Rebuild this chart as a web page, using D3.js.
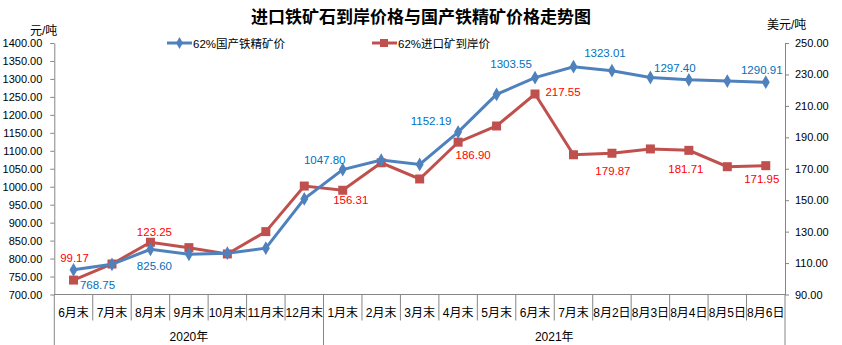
<!DOCTYPE html>
<html><head><meta charset="utf-8">
<script src="https://cdn.jsdelivr.net/npm/d3@7/dist/d3.min.js"></script>
<style>body{margin:0;background:#fff}svg{display:block}</style>
</head><body>
<script>
const categories = ["6月末","7月末","8月末","9月末","10月末","11月末","12月末","1月末","2月末","3月末","4月末","5月末","6月末","7月末","8月2日","8月3日","8月4日","8月5日","8月6日"];
const years = [{name:"2020年", from:0, to:6},{name:"2021年", from:7, to:18}];
const domestic = [768.75,784,825.60,812,815,829,966,1047.80,1074,1062,1152.19,1257,1303.55,1334,1323.01,1304,1297.40,1294,1290.91];
const imported = [99.17,109.4,123.25,119.8,115.8,130,159,156.31,173.8,163.5,186.90,197.2,217.55,178.9,179.87,182.6,181.71,171.3,171.95];
const domesticLabeled = [0,2,7,10,12,14,16,18];
const importedLabeled = [0,2,7,10,12,14,16,18];
const leftTicks = d3.range(700, 1401, 50);
const rightTicks = d3.range(90, 251, 20);

// label placement (offsets from the point, px)
const domOff = {0:[24,19],2:[4,21],7:[-18,-6],10:[-27,-7],12:[-24,-10],14:[-7,-14],16:[-14,-8],18:[-4,-8]};
const impOff = {0:[1,-18],2:[4,-6],7:[8,14],10:[15,17],12:[28,2],14:[1,22],16:[-3,23],18:[-4,17]};

const W=842,H=345, L=54.3, R=785, T=43, B=294.5;
const svg = d3.select("body").append("svg").attr("width",W).attr("height",H)
  .style("font-family","'Liberation Sans','Noto Sans CJK SC',sans-serif");
const x = d3.scaleBand().domain(d3.range(categories.length)).range([L,R]).padding(0);
const cx = i => x(i)+x.bandwidth()/2;
const yL = d3.scaleLinear().domain([700,1400]).range([B,T]);
const yR = d3.scaleLinear().domain([90,250]).range([B,T]);
const axisColor = "#868686";

svg.append("text").attr("x",421).attr("y",23).attr("text-anchor","middle")
  .attr("font-size",17).attr("font-weight","bold").attr("font-family","'Noto Sans CJK SC',sans-serif")
  .text("进口铁矿石到岸价格与国产铁精矿价格走势图");
svg.append("text").attr("x",30).attr("y",35).attr("font-size",12).text("元/吨");
svg.append("text").attr("x",767).attr("y",29).attr("font-size",12).text("美元/吨");

// left axis
const gl = svg.append("g").attr("transform",`translate(${L},0)`)
  .call(d3.axisLeft(yL).tickValues(leftTicks).tickFormat(d3.format(".2f")).tickSize(4).tickSizeOuter(0));
gl.selectAll("text").attr("font-size",11).attr("fill","#000").attr("x",-12);
gl.selectAll("line,path").attr("stroke",axisColor);
// right axis
const gr = svg.append("g").attr("transform",`translate(${R},0)`)
  .call(d3.axisRight(yR).tickValues(rightTicks).tickFormat(d3.format(".2f")).tickSize(4).tickSizeOuter(0));
gr.selectAll("text").attr("font-size",11).attr("fill","#000").attr("x",10);
gr.selectAll("line,path").attr("stroke",axisColor);

// bottom axis
svg.append("line").attr("x1",L).attr("x2",R).attr("y1",B).attr("y2",B).attr("stroke",axisColor);
const gb = svg.append("g");
categories.forEach((c,i)=>{
  if(i>0) gb.append("line").attr("x1",x(i)).attr("x2",x(i)).attr("y1",B).attr("y2",B+26).attr("stroke",axisColor);
  gb.append("text").attr("x",cx(i)).attr("y",B+22).attr("text-anchor","middle").attr("font-size",12).text(c);
});
years.forEach(yr=>{
  const x0=x(yr.from), x1=x(yr.to)+x.bandwidth();
  gb.append("line").attr("x1",x0).attr("x2",x0).attr("y1",B).attr("y2",H).attr("stroke",axisColor);
  gb.append("line").attr("x1",x1).attr("x2",x1).attr("y1",B).attr("y2",H).attr("stroke",axisColor);
  gb.append("text").attr("x",(x0+x1)/2).attr("y",B+46).attr("text-anchor","middle").attr("font-size",12).text(yr.name);
});

const blue="#4F81BD", red="#C0504D";
// imported (right axis)
svg.append("path").datum(imported).attr("fill","none").attr("stroke",red).attr("stroke-width",3)
  .attr("d",d3.line().x((d,i)=>cx(i)).y(d=>yR(d)));
svg.selectAll(".sq").data(imported).enter().append("rect")
  .attr("x",(d,i)=>cx(i)-4.5).attr("y",d=>yR(d)-4.5).attr("width",9).attr("height",9).attr("fill",red);
// domestic (left axis)
svg.append("path").datum(domestic).attr("fill","none").attr("stroke",blue).attr("stroke-width",3)
  .attr("d",d3.line().x((d,i)=>cx(i)).y(d=>yL(d)));
svg.selectAll(".dm").data(domestic).enter().append("path")
  .attr("d",d3.symbol().type(d3.symbolDiamond).size(55))
  .attr("transform",(d,i)=>`translate(${cx(i)},${yL(d)})`).attr("fill",blue);

// data labels
domesticLabeled.forEach(i=>{
  const o=domOff[i];
  svg.append("text").attr("x",cx(i)+o[0]).attr("y",yL(domestic[i])+o[1]).attr("text-anchor","middle")
    .attr("font-size",11.5).attr("fill","#0070C0").text(d3.format(".2f")(domestic[i]));
});
importedLabeled.forEach(i=>{
  const o=impOff[i];
  svg.append("text").attr("x",cx(i)+o[0]).attr("y",yR(imported[i])+o[1]).attr("text-anchor","middle")
    .attr("font-size",11.5).attr("fill","#FF0000").text(d3.format(".2f")(imported[i]));
});

// legend
const lg = svg.append("g");
lg.append("line").attr("x1",167).attr("x2",192).attr("y1",43).attr("y2",43).attr("stroke",blue).attr("stroke-width",3);
lg.append("path").attr("d",d3.symbol().type(d3.symbolDiamond).size(40)).attr("transform","translate(179.5,43)").attr("fill",blue);
lg.append("text").attr("x",193).attr("y",47.5).attr("font-size",11.5).text("62%国产铁精矿价");
lg.append("line").attr("x1",372).attr("x2",397).attr("y1",43).attr("y2",43).attr("stroke",red).attr("stroke-width",3);
lg.append("rect").attr("x",380).attr("y",39).attr("width",8).attr("height",8).attr("fill",red);
lg.append("text").attr("x",398).attr("y",47.5).attr("font-size",11.5).text("62%进口矿到岸价");
</script>
</body></html>
